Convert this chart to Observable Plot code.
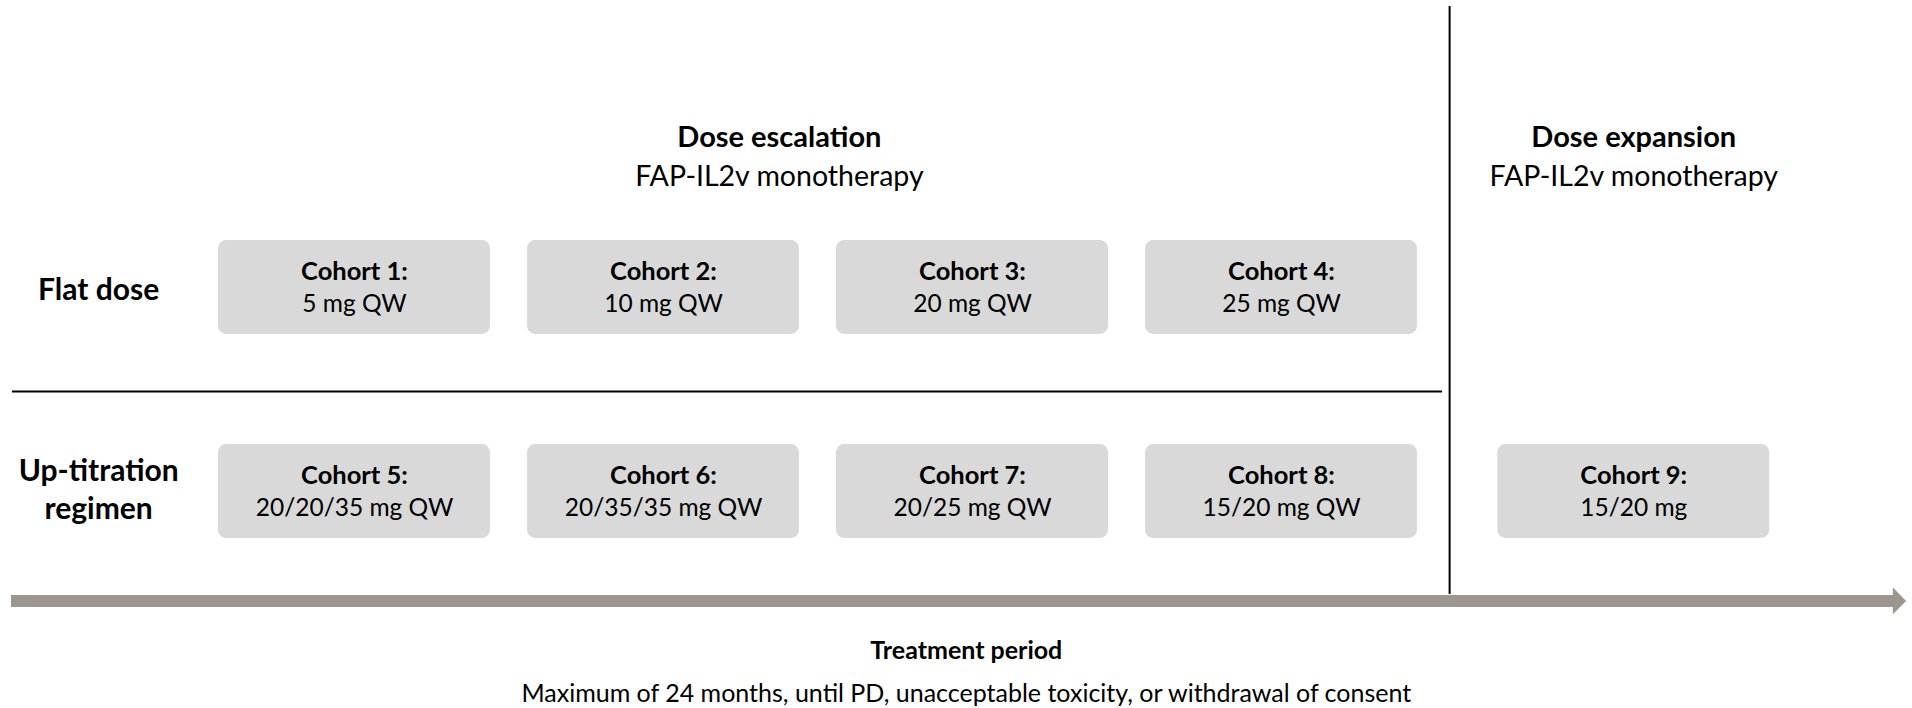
<!DOCTYPE html>
<html>
<head>
<meta charset="utf-8">
<script src="https://cdn.jsdelivr.net/npm/d3@7"></script>
<script src="https://cdn.jsdelivr.net/npm/@observablehq/plot@0.6"></script>
<style>
  html, body { margin: 0; padding: 0; background: #ffffff; }
  #chart svg { display: block; }
</style>
</head>
<body>
<div id="chart"></div>
<script>
// ---- Data ----
const cohortNames = ["Cohort 1:", "Cohort 2:", "Cohort 3:", "Cohort 4:", "Cohort 5:", "Cohort 6:", "Cohort 7:", "Cohort 8:", "Cohort 9:"];
const cohortDoses = ["5 mg QW", "10 mg QW", "20 mg QW", "25 mg QW", "20/20/35 mg QW", "20/35/35 mg QW", "20/25 mg QW", "15/20 mg QW", "15/20 mg"];
const cohortRegimen = ["Flat dose", "Flat dose", "Flat dose", "Flat dose", "Up-titration\nregimen", "Up-titration\nregimen", "Up-titration\nregimen", "Up-titration\nregimen", "Up-titration\nregimen"];
const cohortPhase = ["Dose escalation", "Dose escalation", "Dose escalation", "Dose escalation", "Dose escalation", "Dose escalation", "Dose escalation", "Dose escalation", "Dose expansion"];
const regimens = ["Flat dose", "Up-titration\nregimen"];
const phases = ["Dose escalation", "Dose expansion"];
const phaseSubtitles = ["FAP-IL2v monotherapy", "FAP-IL2v monotherapy"];
const periodTitle = "Treatment period";
const periodNote = "Maximum of 24 months, until PD, unacceptable toxicity, or withdrawal of consent";

// ---- Layout (abstract units: x = cohort slot, y = row) ----
const phaseCenter = {"Dose escalation": 2.375, "Dose expansion": 5.14};
const expansionSlot = 5.14;
const boxHalfW = 0.44, boxHalfH = 0.23;
const rowIndex = r => regimens.indexOf(r) + 1;

const cohorts = cohortNames.map((name, i) => {
  const phase = cohortPhase[i];
  const reg = cohortRegimen[i];
  let col = 0;
  for (let j = 0; j <= i; j++) if (cohortPhase[j] === phase && cohortRegimen[j] === reg) col++;
  const slot = phase === "Dose escalation" ? col : expansionSlot + (col - 1);
  return {name, dose: cohortDoses[i], regimen: reg, phase, slot, row: rowIndex(reg)};
});

const headers = phases.map((p, i) => ({phase: p, sub: phaseSubtitles[i], x: phaseCenter[p]}));
const rowLabels = regimens.map(r => ({label: r, row: rowIndex(r), multi: r.includes("\n")}));

const arrowColor = "#9b978f";
const barH = 0.0294, headH = 0.066;
const arrowY = 2.539, arrowStart = -0.11, arrowNeck = 5.98, arrowTip = 6.023;
const arrowShape = [
  {x: arrowStart, y1: arrowY - barH, y2: arrowY + barH},
  {x: arrowNeck, y1: arrowY - barH, y2: arrowY + barH},
  {x: arrowNeck, y1: arrowY - headH, y2: arrowY + headH},
  {x: arrowTip, y1: arrowY, y2: arrowY}
];

const FONT = "Lato, 'Open Sans', sans-serif";

const chart = Plot.plot({
  width: 1912,
  height: 708,
  margin: 0,
  style: {fontFamily: FONT, background: "#ffffff", color: "#000000"},
  x: {domain: [-0.1456, 6.042], range: [0, 1912], axis: null},
  y: {domain: [-0.4069, 3.064], range: [0, 708], axis: null},
  marks: [
    // phase divider
    Plot.ruleX([4.544], {y1: -0.378, y2: 2.505, stroke: "#000000", strokeWidth: 2}),
    // row divider
    Plot.ruleY([1.51], {x1: -0.107, x2: 4.521, stroke: "#000000", strokeWidth: 2}),
    // headers
    Plot.text(headers, {x: "x", y: () => 0.265, text: "phase", fontSize: 29, fontWeight: "bold", fill: "#000000"}),
    Plot.text(headers, {x: "x", y: () => 0.456, text: "sub", fontSize: 28.5, fill: "#000000"}),
    // row labels
    Plot.text(rowLabels, {x: () => 0.172, y: d => d.row - (d.multi ? 0.02 : 0), text: "label", fontSize: 30, fontWeight: "bold", lineHeight: 1.27, fill: "#000000"}),
    // cohort boxes
    Plot.rect(cohorts, {
      x1: d => d.slot - boxHalfW, x2: d => d.slot + boxHalfW,
      y1: d => d.row - boxHalfH, y2: d => d.row + boxHalfH,
      fill: "#d9d9d9", rx: 8
    }),
    Plot.text(cohorts, {x: "slot", y: d => d.row - 0.078, text: "name", fontSize: 25.5, fontWeight: "bold", fill: "#000000"}),
    Plot.text(cohorts, {x: "slot", y: d => d.row + 0.083, text: "dose", fontSize: 24.5, fill: "#000000"}),
    // treatment-period arrow
    Plot.areaY(arrowShape, {x: "x", y1: "y1", y2: "y2", fill: arrowColor, curve: "linear"}),
    Plot.text([periodTitle], {x: () => 2.98, y: () => 2.784, text: d => d, fontSize: 25, fontWeight: "bold", fill: "#000000"}),
    Plot.text([periodNote], {x: () => 2.98, y: () => 2.995, text: d => d, fontSize: 25, fill: "#000000"})
  ]
});
document.getElementById("chart").appendChild(chart);
</script>
</body>
</html>
